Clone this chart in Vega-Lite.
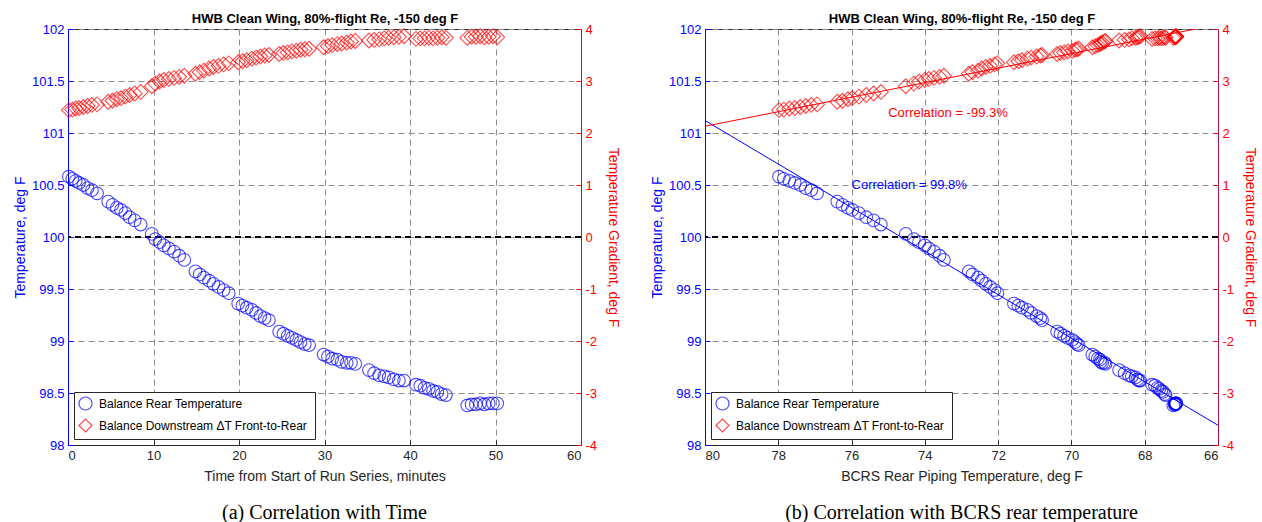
{
  "$schema": "https://vega.github.io/schema/vega-lite/v6.json",
  "background": "white",
  "padding": {"left": 12, "top": 11, "right": 0, "bottom": 2},
  "bounds": "flush",
  "spacing": 124,
  "datasets": {
    "d": [
      {"t":0.1,"T":100.58,"g":2.44,"b":77.98},{"t":0.5,"T":100.56,"g":2.45,"b":77.85},{"t":0.9,"T":100.54,"g":2.47,"b":77.7},{"t":1.3,"T":100.52,"g":2.48,"b":77.55},{"t":1.8,"T":100.5,"g":2.5,"b":77.4},{"t":2.3,"T":100.47,"g":2.52,"b":77.25},{"t":2.8,"T":100.45,"g":2.54,"b":77.1},{"t":3.4,"T":100.42,"g":2.55,"b":76.94},
      {"t":4.7,"T":100.34,"g":2.6,"b":76.39},{"t":5.2,"T":100.31,"g":2.62,"b":76.25},{"t":5.7,"T":100.28,"g":2.65,"b":76.1},{"t":6.2,"T":100.26,"g":2.67,"b":75.98},{"t":6.7,"T":100.23,"g":2.7,"b":75.8},{"t":7.2,"T":100.19,"g":2.73,"b":75.6},{"t":7.8,"T":100.16,"g":2.76,"b":75.4},{"t":8.5,"T":100.12,"g":2.79,"b":75.2},
      {"t":9.8,"T":100.03,"g":2.9,"b":74.52},{"t":10.2,"T":99.98,"g":2.95,"b":74.3},{"t":10.7,"T":99.95,"g":2.99,"b":74.16},{"t":11.2,"T":99.92,"g":3.02,"b":74.0},{"t":11.8,"T":99.89,"g":3.04,"b":73.89},{"t":12.4,"T":99.86,"g":3.06,"b":73.75},{"t":13.0,"T":99.82,"g":3.08,"b":73.6},{"t":13.6,"T":99.78,"g":3.1,"b":73.48},
      {"t":14.9,"T":99.67,"g":3.14,"b":72.8},{"t":15.4,"T":99.64,"g":3.17,"b":72.7},{"t":15.9,"T":99.61,"g":3.2,"b":72.55},{"t":16.5,"T":99.58,"g":3.24,"b":72.45},{"t":17.0,"T":99.55,"g":3.27,"b":72.34},{"t":17.6,"T":99.52,"g":3.29,"b":72.22},{"t":18.2,"T":99.49,"g":3.32,"b":72.1},{"t":18.8,"T":99.46,"g":3.34,"b":72.02},
      {"t":19.9,"T":99.36,"g":3.36,"b":71.57},{"t":20.4,"T":99.34,"g":3.38,"b":71.45},{"t":20.9,"T":99.32,"g":3.4,"b":71.35},{"t":21.5,"T":99.3,"g":3.43,"b":71.2},{"t":22.0,"T":99.27,"g":3.45,"b":71.1},{"t":22.5,"T":99.24,"g":3.47,"b":70.95},{"t":23.0,"T":99.22,"g":3.49,"b":70.85},{"t":23.5,"T":99.2,"g":3.5,"b":70.8},
      {"t":24.7,"T":99.09,"g":3.52,"b":70.39},{"t":25.2,"T":99.07,"g":3.54,"b":70.3},{"t":25.7,"T":99.05,"g":3.55,"b":70.2},{"t":26.2,"T":99.03,"g":3.57,"b":70.1},{"t":26.7,"T":99.01,"g":3.58,"b":69.98},{"t":27.2,"T":98.99,"g":3.6,"b":69.9},{"t":27.7,"T":98.97,"g":3.61,"b":69.85},{"t":28.2,"T":98.96,"g":3.62,"b":69.8},
      {"t":29.9,"T":98.87,"g":3.65,"b":69.43},{"t":30.4,"T":98.85,"g":3.67,"b":69.35},{"t":30.9,"T":98.83,"g":3.69,"b":69.28},{"t":31.5,"T":98.82,"g":3.71,"b":69.22},{"t":32.0,"T":98.8,"g":3.72,"b":69.2},{"t":32.6,"T":98.79,"g":3.74,"b":69.16},{"t":33.1,"T":98.79,"g":3.76,"b":69.1},{"t":33.6,"T":98.78,"g":3.77,"b":69.07},
      {"t":35.2,"T":98.72,"g":3.78,"b":68.7},{"t":35.8,"T":98.69,"g":3.79,"b":68.55},{"t":36.4,"T":98.67,"g":3.8,"b":68.43},{"t":37.0,"T":98.66,"g":3.82,"b":68.35},{"t":37.5,"T":98.65,"g":3.83,"b":68.25},{"t":38.1,"T":98.63,"g":3.84,"b":68.2},{"t":38.7,"T":98.62,"g":3.85,"b":68.16},{"t":39.3,"T":98.62,"g":3.86,"b":68.12},
      {"t":40.7,"T":98.58,"g":3.81,"b":67.8},{"t":41.2,"T":98.57,"g":3.82,"b":67.72},{"t":41.7,"T":98.55,"g":3.82,"b":67.65},{"t":42.2,"T":98.54,"g":3.83,"b":67.6},{"t":42.7,"T":98.52,"g":3.82,"b":67.55},{"t":43.2,"T":98.51,"g":3.83,"b":67.5},{"t":43.7,"T":98.49,"g":3.84,"b":67.45},{"t":44.2,"T":98.48,"g":3.83,"b":67.43},
      {"t":46.7,"T":98.38,"g":3.83,"b":67.22},{"t":47.2,"T":98.39,"g":3.85,"b":67.18},{"t":47.7,"T":98.39,"g":3.85,"b":67.16},{"t":48.2,"T":98.4,"g":3.86,"b":67.15},{"t":48.7,"T":98.39,"g":3.84,"b":67.17},{"t":49.2,"T":98.4,"g":3.85,"b":67.16},{"t":49.7,"T":98.4,"g":3.86,"b":67.14},{"t":50.2,"T":98.4,"g":3.84,"b":67.15}
    ],
    "fit": [{"b":80,"T":101.12,"g":2.13},{"b":66,"T":98.19,"g":4.086}],
    "annB": [{"b":76.0,"T":100.5,"label":"Correlation = 99.8%"}],
    "annR": [{"b":75.0,"g":2.385,"label":"Correlation = -99.3%"}]
  },
  "config": {
    "font": "Liberation Sans",
    "view": {"stroke": "#262626", "strokeWidth": 1},
    "axis": {
      "labelFont": "Liberation Sans", "labelFontSize": 13, "labelColor": "#262626",
      "titleFont": "Liberation Sans", "titleFontSize": 14, "titleFontWeight": "normal", "titleColor": "#262626",
      "domainColor": "#262626", "tickColor": "#262626", "tickSize": -5, "labelPadding": 9,
      "gridColor": "#8c8c8c", "gridDash": [6, 4], "gridOpacity": 1, "gridWidth": 1
    },
    "legend": {
      "orient": "bottom-left", "offset": 6, "strokeColor": "#262626", "fillColor": "white",
      "padding": 4, "labelFont": "Liberation Sans", "labelFontSize": 12, "labelColor": "black",
      "symbolSize": 170, "symbolStrokeWidth": 1.2, "rowPadding": 3, "labelOffset": 6, "labelLimit": 400
    }
  },
  "resolve": {"scale": {"color": "independent", "shape": "independent"}, "legend": {"color": "independent", "shape": "independent"}},
  "hconcat": [
    {
      "width": 513, "height": 416,
      "title": {"text": "(a) Correlation with Time", "orient": "bottom", "font": "Liberation Serif", "fontSize": 20, "fontWeight": "normal", "color": "black", "offset": 20},
      "data": {"name": "d"},
      "resolve": {"scale": {"y": "independent"}},
      "layer": [
        {
          "layer": [
            {
              "mark": {"type": "rule", "color": "black", "strokeDash": [6, 4], "strokeWidth": 1},
              "encoding": {"y": {"datum": 100, "type": "quantitative", "scale": {"domain": [98, 102], "nice": false, "zero": false}}}
            },
            {
              "mark": {"type": "point", "filled": false, "size": 160, "strokeWidth": 1.1},
              "encoding": {
                "x": {"field": "t", "type": "quantitative", "scale": {"domain": [0, 60], "nice": false},
                  "axis": {"orient": "bottom", "values": [0, 10, 20, 30, 40, 50, 60], "title": "Time from Start of Run Series, minutes", "titlePadding": 7, "grid": true, "labelExpr": "'' + datum.value"}},
                "y": {"field": "T", "type": "quantitative", "scale": {"domain": [98, 102], "nice": false, "zero": false},
                  "axis": {"orient": "left", "values": [98, 98.5, 99, 99.5, 100, 100.5, 101, 101.5, 102], "grid": true, "title": "Temperature, deg F", "labelColor": "#0000ff", "titleColor": "#0000ff", "domainColor": "#0000ff", "tickColor": "#0000ff", "labelExpr": "'' + datum.value"}},
                "color": {"datum": "Balance Rear Temperature", "type": "nominal", "scale": {"domain": ["Balance Rear Temperature", "Balance Downstream  ΔT Front-to-Rear"], "range": ["#0000ff", "#ff0000"]}, "legend": {"title": null}},
                "shape": {"datum": "Balance Rear Temperature", "type": "nominal", "scale": {"domain": ["Balance Rear Temperature", "Balance Downstream  ΔT Front-to-Rear"], "range": ["circle", "diamond"]}, "legend": {"title": null}}
              }
            }
          ]
        },
        {
          "layer": [
            {
              "mark": {"type": "point", "filled": false, "size": 220, "strokeWidth": 1.1},
              "encoding": {
                "x": {"field": "t", "type": "quantitative", "scale": {"domain": [0, 60], "nice": false},
                  "axis": {"orient": "top", "title": "HWB Clean Wing, 80%-flight Re, -150 deg F", "labels": false, "ticks": false, "domain": false, "grid": false, "titleFontWeight": "bold", "titleFontSize": 13, "titleColor": "black", "titlePadding": 4}},
                "y": {"field": "g", "type": "quantitative", "scale": {"domain": [-4, 4], "nice": false},
                  "axis": {"orient": "right", "values": [-4, -3, -2, -1, 0, 1, 2, 3, 4], "grid": false, "title": "Temperature Gradient, deg F", "titlePadding": 9, "labelColor": "#ff0000", "titleColor": "#ff0000", "domainColor": "#b0104a", "tickColor": "#ff0000", "labelExpr": "'' + datum.value"}},
                "color": {"datum": "Balance Downstream  ΔT Front-to-Rear", "type": "nominal", "scale": {"domain": ["Balance Rear Temperature", "Balance Downstream  ΔT Front-to-Rear"], "range": ["#0000ff", "#ff0000"]}, "legend": {"title": null}},
                "shape": {"datum": "Balance Downstream  ΔT Front-to-Rear", "type": "nominal", "scale": {"domain": ["Balance Rear Temperature", "Balance Downstream  ΔT Front-to-Rear"], "range": ["circle", "diamond"]}, "legend": {"title": null}}
              }
            }
          ]
        }
      ]
    },
    {
      "width": 513, "height": 416,
      "title": {"text": "(b) Correlation with BCRS rear temperature", "orient": "bottom", "font": "Liberation Serif", "fontSize": 20, "fontWeight": "normal", "color": "black", "offset": 20},
      "data": {"name": "d"},
      "resolve": {"scale": {"y": "independent"}},
      "layer": [
        {
          "layer": [
            {
              "mark": {"type": "rule", "color": "black", "strokeDash": [6, 4], "strokeWidth": 1},
              "encoding": {"y": {"datum": 100, "type": "quantitative", "scale": {"domain": [98, 102], "nice": false, "zero": false}}}
            },
            {
              "data": {"name": "fit"},
              "mark": {"type": "line", "color": "#0000ff", "strokeWidth": 1, "clip": true},
              "encoding": {
                "x": {"field": "b", "type": "quantitative", "scale": {"domain": [66, 80], "reverse": true, "nice": false, "zero": false}},
                "y": {"field": "T", "type": "quantitative", "scale": {"domain": [98, 102], "nice": false, "zero": false}}
              }
            },
            {
              "mark": {"type": "point", "filled": false, "size": 160, "strokeWidth": 1.1},
              "encoding": {
                "x": {"field": "b", "type": "quantitative", "scale": {"domain": [66, 80], "reverse": true, "nice": false, "zero": false},
                  "axis": {"orient": "bottom", "values": [66, 68, 70, 72, 74, 76, 78, 80], "title": "BCRS Rear Piping Temperature, deg F", "titlePadding": 7, "grid": true, "labelExpr": "'' + datum.value"}},
                "y": {"field": "T", "type": "quantitative", "scale": {"domain": [98, 102], "nice": false, "zero": false},
                  "axis": {"orient": "left", "values": [98, 98.5, 99, 99.5, 100, 100.5, 101, 101.5, 102], "grid": true, "title": "Temperature, deg F", "labelColor": "#0000ff", "titleColor": "#0000ff", "domainColor": "#0000ff", "tickColor": "#0000ff", "labelExpr": "'' + datum.value"}},
                "color": {"datum": "Balance Rear Temperature", "type": "nominal", "scale": {"domain": ["Balance Rear Temperature", "Balance Downstream  ΔT Front-to-Rear"], "range": ["#0000ff", "#ff0000"]}, "legend": {"title": null}},
                "shape": {"datum": "Balance Rear Temperature", "type": "nominal", "scale": {"domain": ["Balance Rear Temperature", "Balance Downstream  ΔT Front-to-Rear"], "range": ["circle", "diamond"]}, "legend": {"title": null}}
              }
            },
            {
              "data": {"name": "annB"},
              "mark": {"type": "text", "align": "left", "baseline": "middle", "color": "#0000ff", "fontSize": 13, "font": "Liberation Sans"},
              "encoding": {
                "x": {"field": "b", "type": "quantitative", "scale": {"domain": [66, 80], "reverse": true, "nice": false, "zero": false}},
                "y": {"field": "T", "type": "quantitative", "scale": {"domain": [98, 102], "nice": false, "zero": false}},
                "text": {"field": "label"}
              }
            }
          ]
        },
        {
          "layer": [
            {
              "data": {"name": "fit"},
              "mark": {"type": "line", "color": "#ff0000", "strokeWidth": 1, "clip": true},
              "encoding": {
                "x": {"field": "b", "type": "quantitative", "scale": {"domain": [66, 80], "reverse": true, "nice": false, "zero": false}},
                "y": {"field": "g", "type": "quantitative", "scale": {"domain": [-4, 4], "nice": false}}
              }
            },
            {
              "mark": {"type": "point", "filled": false, "size": 220, "strokeWidth": 1.1},
              "encoding": {
                "x": {"field": "b", "type": "quantitative", "scale": {"domain": [66, 80], "reverse": true, "nice": false, "zero": false},
                  "axis": {"orient": "top", "title": "HWB Clean Wing, 80%-flight Re, -150 deg F", "labels": false, "ticks": false, "domain": false, "grid": false, "titleFontWeight": "bold", "titleFontSize": 13, "titleColor": "black", "titlePadding": 4}},
                "y": {"field": "g", "type": "quantitative", "scale": {"domain": [-4, 4], "nice": false},
                  "axis": {"orient": "right", "values": [-4, -3, -2, -1, 0, 1, 2, 3, 4], "grid": false, "title": "Temperature Gradient, deg F", "titlePadding": 9, "labelColor": "#ff0000", "titleColor": "#ff0000", "domainColor": "#b0104a", "tickColor": "#ff0000", "labelExpr": "'' + datum.value"}},
                "color": {"datum": "Balance Downstream  ΔT Front-to-Rear", "type": "nominal", "scale": {"domain": ["Balance Rear Temperature", "Balance Downstream  ΔT Front-to-Rear"], "range": ["#0000ff", "#ff0000"]}, "legend": {"title": null}},
                "shape": {"datum": "Balance Downstream  ΔT Front-to-Rear", "type": "nominal", "scale": {"domain": ["Balance Rear Temperature", "Balance Downstream  ΔT Front-to-Rear"], "range": ["circle", "diamond"]}, "legend": {"title": null}}
              }
            },
            {
              "data": {"name": "annR"},
              "mark": {"type": "text", "align": "left", "baseline": "middle", "color": "#ff0000", "fontSize": 13, "font": "Liberation Sans"},
              "encoding": {
                "x": {"field": "b", "type": "quantitative", "scale": {"domain": [66, 80], "reverse": true, "nice": false, "zero": false}},
                "y": {"field": "g", "type": "quantitative", "scale": {"domain": [-4, 4], "nice": false}},
                "text": {"field": "label"}
              }
            }
          ]
        }
      ]
    }
  ]
}
